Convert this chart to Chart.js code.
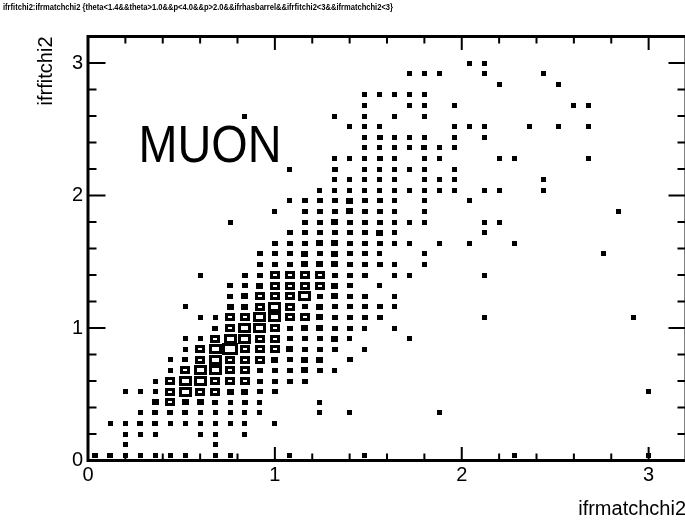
<!DOCTYPE html>
<html>
<head>
<meta charset="utf-8">
<script src="https://cdn.jsdelivr.net/npm/chart.js@4.4.1/dist/chart.umd.min.js"></script>
<style>
  html, body { margin: 0; padding: 0; background: #fff; overflow: hidden; }
  #wrap { width: 690px; height: 521px; }
</style>
</head>
<body>
<div id="wrap"><canvas id="chart"></canvas></div>
<script>
const titleText = 'ifrfitchi2:ifrmatchchi2 {theta<1.4&&theta>1.0&&p<4.0&&p>2.0&&ifrhasbarrel&&ifrfitchi2<3&&ifrmatchchi2<3}';
const xTitle = 'ifrmatchchi2';
const yTitle = 'ifrfitchi2';
const tag = 'MUON';

const nBins = 40;
const xRange = [0, 3.2];
const yRange = [0, 3.2];
const xTicks = [0, 1, 2, 3];
const yTicks = [0, 1, 2, 3];
const minorStep = 0.2;

// bin contents, one string per y bin (bottom first), one char per x bin
// '.' = empty, hex digit = entries
const binRows = [
  '2211111.11 ...1....1. ........1. .......1..',
  '..1.....1. .......... .......... ..........',
  '..111..11. 1......... .......... ..........',
  '.112211111 1.1....... .......... ..........',
  '...1222111 11...1.1.. ...1...... ..........',
  '....474421 21...1.... .......... ..........',
  '..1117a774 422....... .......... .......1..',
  '....17aa77 72222..... .......... ..........',
  '.....17aa7 7222421... .......... ..........',
  '.....127a7 774244.2.. .......... ..........',
  '......17ae 7774222.1. .......... ..........',
  '......117a a7722241.. .1........ ..........',
  '........27 aa7244221. 1......... ..........',
  '.......117 7aa7742222 ......1... ......1...',
  '......1..4 47a7242222 1......... ..........',
  '.........2 4777a2422. 1......... ..........',
  '.........2 24777742.1 .......... ..........',
  '.......1.. 227777222. 11....1... ..........',
  '.......... .222444222 1.1....... ..........',
  '.......... .222424221 ..1....... ....1.....',
  '.......... ..22244222 11.1.1..1. ..........',
  '.......... ...2222224 1.....1... ..........',
  '.........1 ....224222 111...11.. ..........',
  '.......... ..1.222422 1.1....... .....1....',
  '.......... ...1222422 1.1..1.... ..........',
  '.......... .....11111 11111.11.. 1.........',
  '.......... ......1111 1.111..... 1.........',
  '.......... ...1..2.11 111.1..... ..........',
  '.......... ......1112 1.11...11. ...1......',
  '.......... ........11 11211..... ..........',
  '.......... ........12 111.1.1... ..........',
  '.......... .......111 ....111..1 .1.1......',
  '.......... 1.....1.1. 1.1....... ..........',
  '.......... ........1. .11.1..... ..11......',
  '.......... ........11 111....... ..........',
  '.......... .......... .......1.. .1........',
  '.......... .......... .111..1... 1.........',
  '.......... .......... .....11... ..........'
];

const binW = (xRange[1] - xRange[0]) / nBins;
const binH = (yRange[1] - yRange[0]) / nBins;

const bins = [];
binRows.forEach((row, j) => {
  const cells = row.replace(/ /g, '');
  for (let i = 0; i < cells.length; i++) {
    if (cells[i] === '.') continue;
    bins.push({
      x: xRange[0] + (i + 0.5) * binW,
      y: yRange[0] + (j + 0.5) * binH,
      z: parseInt(cells[i], 16)
    });
  }
});
const zMax = Math.max(...bins.map(b => b.z));

// ROOT "box" option: hollow box scaled by content
const boxFill = 0.8;
const boxLine = 3;
const boxCache = {};
function boxImage(context) {
  const p = context.raw;
  if (!p) return 'rect';
  const xs = context.chart.scales.x;
  const ys = context.chart.scales.y;
  const bw = Math.abs(xs.getPixelForValue(binW) - xs.getPixelForValue(0));
  const bh = Math.abs(ys.getPixelForValue(0) - ys.getPixelForValue(binH));
  const f = p.z / zMax * boxFill;
  const w = Math.max(boxLine + 1, Math.round(bw * f + boxLine + 1));
  const h = Math.max(boxLine + 1, Math.round(bh * f + boxLine + 1));
  const key = w + 'x' + h;
  if (!boxCache[key]) {
    const c = document.createElement('canvas');
    c.width = w;
    c.height = h;
    const g = c.getContext('2d');
    g.fillStyle = '#000';
    g.fillRect(0, 0, w, h);
    if (w > 2 * boxLine && h > 2 * boxLine) g.clearRect(boxLine, boxLine, w - 2 * boxLine, h - 2 * boxLine);
    boxCache[key] = c;
  }
  return boxCache[key];
}

const frame = {
  id: 'frame',
  beforeDatasetsDraw(chart) {
    chart.ctx.save();
    chart.ctx.imageSmoothingEnabled = false;
  },
  afterDatasetsDraw(chart) {
    const { ctx, chartArea: a, scales: { x, y } } = chart;
    ctx.restore();
    ctx.save();
    ctx.strokeStyle = '#000';
    ctx.lineWidth = 2;
    ctx.beginPath();
    for (let v = xRange[0]; v <= xRange[1] + 1e-9; v += minorStep) {
      const px = x.getPixelForValue(v);
      const major = Math.abs(v - Math.round(v)) < 1e-6;
      const len = major ? 13.5 : 7;
      ctx.moveTo(px, a.bottom); ctx.lineTo(px, a.bottom - len);
      ctx.moveTo(px, a.top); ctx.lineTo(px, a.top + len);
    }
    for (let v = yRange[0]; v <= yRange[1] + 1e-9; v += minorStep) {
      const py = y.getPixelForValue(v);
      const major = Math.abs(v - Math.round(v)) < 1e-6;
      const len = major ? 17.5 : 8.5;
      ctx.moveTo(a.left, py); ctx.lineTo(a.left + len, py);
      ctx.moveTo(a.right, py); ctx.lineTo(a.right - len, py);
    }
    ctx.stroke();
    ctx.lineWidth = 3;
    ctx.strokeRect(a.left, a.top, a.right - a.left, a.bottom - a.top);
    ctx.restore();
  },
  afterDraw(chart) {
    const { ctx, scales: { x, y } } = chart;
    ctx.save();
    ctx.fillStyle = '#000';
    ctx.font = 'bold 9px "Liberation Sans", Arial, sans-serif';
    ctx.fillText(titleText, 3, 10, 390);
    ctx.translate(x.getPixelForValue(0.27), y.getPixelForValue(2.25));
    ctx.scale(0.9, 1);
    ctx.font = '52px "Liberation Sans", Arial, sans-serif';
    ctx.fillText(tag, 0, 0);
    ctx.restore();
  }
};

const axisFont = { family: '"Liberation Sans", Arial, sans-serif', size: 20 };

new Chart(document.getElementById('chart'), {
  type: 'scatter',
  data: {
    datasets: [{
      data: bins,
      pointStyle: boxImage,
      pointRadius: 3,
      pointHoverRadius: 3
    }]
  },
  options: {
    responsive: true,
    maintainAspectRatio: false,
    animation: false,
    events: [],
    layout: { padding: { left: 0, right: 1.5, top: 36.5, bottom: 0 } },
    plugins: { legend: { display: false }, tooltip: { enabled: false } },
    scales: {
      x: {
        type: 'linear', min: xRange[0], max: xRange[1],
        afterBuildTicks: s => { s.ticks = xTicks.map(v => ({ value: v })); },
        afterFit: s => { s.height = 60.5; },
        grid: { display: false, drawTicks: false },
        border: { display: false },
        ticks: { font: axisFont, color: '#000', padding: 3, maxRotation: 0, autoSkip: false },
        title: { display: true, text: xTitle, align: 'end', color: '#000', font: axisFont, padding: { top: 0, bottom: 0 } }
      },
      y: {
        type: 'linear', min: yRange[0], max: yRange[1],
        afterBuildTicks: s => { s.ticks = yTicks.map(v => ({ value: v })); },
        afterFit: s => { s.width = 88; },
        grid: { display: false, drawTicks: false },
        border: { display: false },
        ticks: { font: axisFont, color: '#000', padding: 5, autoSkip: false },
        title: { display: true, text: yTitle, align: 'end', color: '#000', font: axisFont, padding: { top: 34, bottom: 0 } }
      }
    }
  },
  plugins: [frame]
});
</script>
</body>
</html>
